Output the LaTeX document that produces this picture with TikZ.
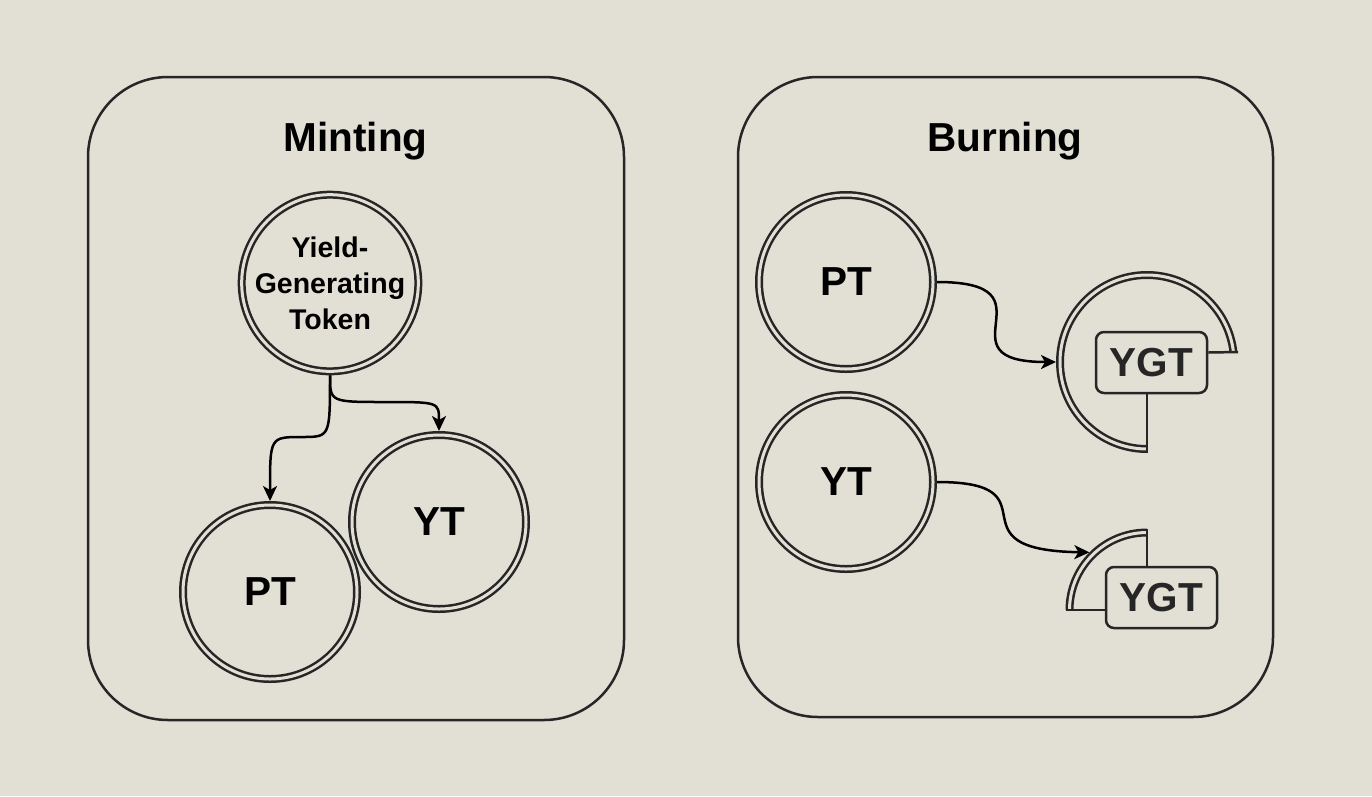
\documentclass[tikz,border=0pt]{standalone}
\usepackage{fontspec}
\setmainfont{Liberation Sans}
\usetikzlibrary{arrows.meta}
\definecolor{bg}{HTML}{E2DFD5}
\definecolor{ink}{HTML}{262626}
\begin{document}
\begin{tikzpicture}[x=1pt,y=-1pt,
  panel/.style={draw=ink, line width=2.5pt, rounded corners=80pt},
  title/.style={anchor=base, font=\fontsize{40.5}{48}\selectfont\bfseries},
  token/.style={circle, draw=ink, double=bg, double distance=3pt, line width=2.5pt,
    minimum size=174pt, inner sep=0pt, outer sep=4pt,
    font=\fontsize{40.5}{48}\selectfont\bfseries},
  ghost/.style={circle, inner sep=0pt, outer sep=0pt},
  dblarc/.style={draw=ink, double=bg, double distance=3pt, line width=2.5pt},
  ygtbox/.style={draw=ink, line width=2.5pt, rounded corners=8pt, minimum width=111pt,
    minimum height=61pt, inner sep=0pt, text=ink, font=\fontsize{40.5}{48}\selectfont\bfseries},
  link/.style={draw=ink, line width=2.5pt},
  arr/.style={draw=black, line width=2.5pt, -{Stealth[length=15pt,width=14pt,inset=4pt]}}
]
\fill[bg] (0,0) rectangle (1372,796);
\useasboundingbox (0,0) rectangle (1372,796);

% panels
\draw[panel] (88,77) rectangle (624,720);
\draw[panel] (738,77) rectangle (1273,717);
\node[title] (tmint) at (355.5,151) {Minting};
\node[title] (tburn) at (1005,151) {Burning};

% minting tokens
\node[token, align=center, font=\fontsize{28.5}{36}\selectfont\bfseries] (ygt) at (330,283) {Yield-\\Generating\\Token};
\node[token] (ptl) at (270,592) {PT};
\node[token] (ytl) at (439,522) {YT};

\draw[arr] (ygt.south) .. controls (330,437) and (330,437) .. (302,437)
  .. controls (270,437) and (270,437) .. (ptl.north);
\draw[arr] (ygt.south) .. controls (330,402) and (330,402) .. (385,402)
  .. controls (439,402) and (439,402) .. (ytl.north);

% burning tokens
\node[token] (ptr) at (846,282) {PT};
\node[token] (ytr) at (846,482) {YT};

% partial circle 1
\node[ghost, minimum size=182pt] (pc1) at (1147,362) {};
\draw[dblarc] (1147,449) arc[start angle=90, end angle=353.4, radius=87];
\node[ygtbox] (ygt1) at (1151.5,362.5) {YGT};
\draw[link] ([yshift=10pt]ygt1.east) -- (1238,352);
\draw[link] ([xshift=-4.5pt]ygt1.south) -- (1147,453);

% partial circle 2
\node[ghost, minimum size=163pt] (pc2) at (1147,610) {};
\draw[dblarc] (1069.5,610) arc[start angle=180, end angle=270, radius=77.5];
\node[ygtbox] (ygt2) at (1161.5,597.5) {YGT};
\draw[link] ([yshift=-12.5pt]ygt2.west) -- (1065.5,610);
\draw[link] ([xshift=-14.5pt]ygt2.north) -- (1147,528.5);

\draw[arr] (ptr.east) .. controls (1060,282) and (935,362) .. (pc1.west);
\draw[arr] (ytr.east) .. controls (1060,482) and (945,550) .. (pc2.north west);
\end{tikzpicture}
\end{document}
